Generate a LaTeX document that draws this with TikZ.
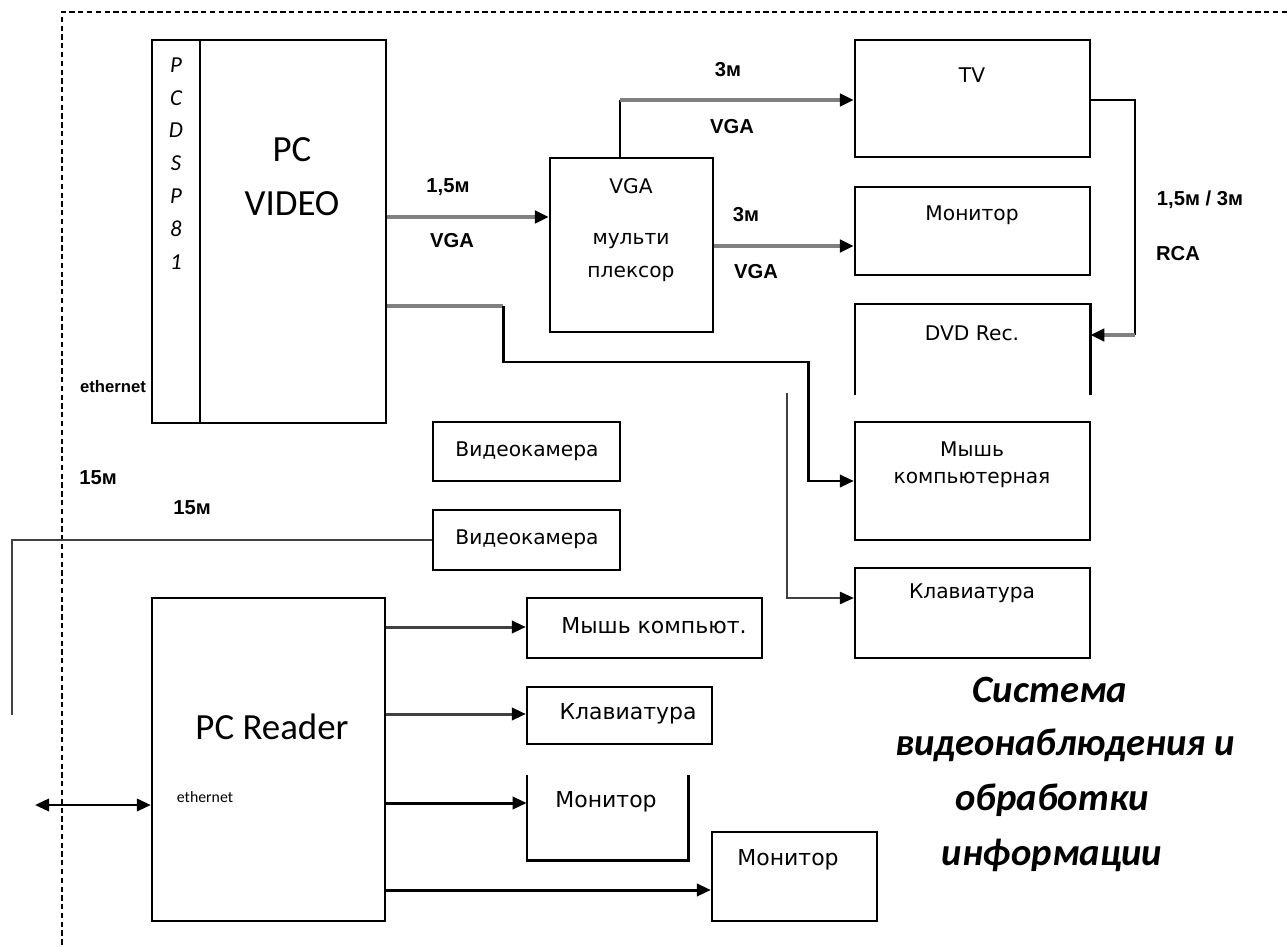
\documentclass[tikz,border=0pt]{standalone}
\usepackage{fontspec}
\setmainfont{Carlito}
\newfontfamily\labfont{Liberation Sans}
\newfontfamily\boxfont{DejaVu Sans}
\usetikzlibrary{arrows.meta,fit}
\tikzset{
  blk/.style={draw, line width=1.3pt, inner sep=0pt},
  open/.style={inner sep=0pt},
  side/.style={line width=1.3pt},
  tipk/.style={-{Triangle[length=8pt,width=7pt,black]}},
  garr/.style={draw=gray, line width=2.2pt, tipk},
  gline/.style={draw=gray, line width=2.2pt},
  bline/.style={draw=black, line width=1.6pt},
  barr/.style={draw=black, line width=1.7pt, tipk},
  darr/.style={draw=black!75, line width=1.7pt, tipk},
  tline/.style={draw=black!75, line width=1.1pt},
  tarr/.style={draw=black!75, line width=1.1pt, tipk},
  border/.style={draw=black, line width=1.2pt, dash pattern=on 3pt off 2pt},
  txt/.style={font=\boxfont\fontsize{11.5}{13}\selectfont, inner sep=0pt},
  big/.style={font=\fontsize{21}{24}\selectfont, inner sep=0pt},
  lab/.style={font=\labfont\bfseries\fontsize{11.5}{13}\selectfont, inner sep=0pt},
  vert/.style={font=\itshape\fontsize{13}{14}\selectfont, inner sep=0pt},
  capt/.style={font=\bfseries\itshape\fontsize{22}{24}\selectfont, inner sep=0pt},
}
\begin{document}
\begin{tikzpicture}[x=0.02cm,y=-0.02cm]
\useasboundingbox (0,0) rectangle (1287,946);

% outer dashed frame (top and left edges)
\coordinate (fr1) at (62,12);
\coordinate (fr2) at (1287,12);
\coordinate (fr3) at (62,946);
\draw[border] (fr2) -- (fr1) -- (fr3);

% ---------- blocks ----------
\node[blk, fit={(152,40) (386,423)}] (pcv) {};
\draw[side] (200,40) -- (200,423);
\node[blk, fit={(550,158) (713,332)}] (mux) {};
\node[blk, fit={(855,40) (1090,157)}] (tv) {};
\node[blk, fit={(855,187) (1090,275)}] (mon) {};
\node[open, fit={(855,304) (1090,395)}] (dvd) {};
\draw[side] (dvd.south west) -- (dvd.north west) -- (dvd.north east) -- (dvd.south east);
\node[blk, fit={(855,422) (1090,540)}] (mouse) {};
\node[blk, fit={(855,568) (1090,658)}] (kl) {};
\node[blk, fit={(433,422) (620,481)}] (cam1) {};
\node[blk, fit={(433,510) (620,570)}] (cam2) {};
\node[blk, fit={(152,598) (385,921)}] (pcr) {};
\node[blk, fit={(527,598) (762,658)}] (mk) {};
\node[blk, fit={(527,687) (712,744)}] (kl2) {};
\node[open, fit={(527,775) (688,860)}] (m3) {};
\draw[side] (m3.north west) -- (m3.south west) -- (m3.south east) -- (m3.north east);
\node[blk, fit={(712,832) (877,921)}] (m4) {};

% ---------- block texts ----------
\foreach \c [count=\i] in {P,C,D,S,P,8,1}
  \node[vert] (v\i) at (176,{65+32.8*(\i-1)}) {\c};
\node[big] (pc1) at (292,150) {PC};
\node[big] (pc2) at (292,204) {VIDEO};
\node[lab, font=\labfont\bfseries\fontsize{9.5}{11}\selectfont] (eth1) at (113,387) {ethernet};

\node[txt] (mx1) at (631,186) {VGA};
\node[txt] (mx2) at (631,241) {мульти};
\node[txt] (mx3) at (631,274) {плексор};

\node[txt] (t1) at (972,75) {TV};
\node[txt] (t2) at (972,215) {Монитор};
\node[txt] (t3) at (972,333) {DVD Rec.};
\node[txt] (t4) at (972,449) {Мышь};
\node[txt] (t5) at (972,480) {компьютерная};
\node[txt] (t6) at (972,593) {Клавиатура};
\node[txt] (t7) at (527,451) {Видеокамера};
\node[txt] (t8) at (527,539) {Видеокамера};

\node[big] (r1) at (272,727) {PC Reader};
\node[font=\fontsize{9}{10}\selectfont, inner sep=0pt] (eth2) at (205,797) {ethernet};
\node[txt, font=\boxfont\fontsize{12.5}{14}\selectfont] (t9) at (654,626) {Мышь компьют.};
\node[txt, font=\boxfont\fontsize{12.5}{14}\selectfont] (t10) at (628,714) {Клавиатура};
\node[txt, font=\boxfont\fontsize{12.5}{14}\selectfont] (t11) at (606,802) {Монитор};
\node[txt, font=\boxfont\fontsize{12.5}{14}\selectfont] (t12) at (788,860) {Монитор};

% ---------- cable labels ----------
\node[lab] (c1) at (448,187) {1,5м};
\node[lab] (c2) at (452,241) {VGA};
\node[lab] (c3) at (728,70) {3м};
\node[lab] (c4) at (732,127) {VGA};
\node[lab] (c5) at (746,215) {3м};
\node[lab] (c6) at (756,272) {VGA};
\node[lab] (c7) at (1200,200) {1,5м / 3м};
\node[lab] (c8) at (1178,254) {RCA};
\node[lab] (c9) at (98,478) {15м};
\node[lab] (c10) at (192,508) {15м};

% ---------- caption ----------
\node[capt] (s1) at (1050,690) {Система};
\node[capt] (s2) at (1065,745) {видеонаблюдения и};
\node[capt] (s3) at (1052,800) {обработки};
\node[capt] (s4) at (1052,855) {информации};

% ---------- connectors ----------
\draw[garr] (pcv.east |- 0,217) -- (mux.west |- 0,217);
\coordinate (j1) at (620,100);
\draw[bline] (mux.north -| j1) -- (j1);
\draw[garr] (j1) -- (tv.west |- j1);
\draw[garr] (mux.east |- 0,246) -- (mon.west |- 0,246);

\coordinate (j2) at (1135,100);
\coordinate (j3) at (1135,335);
\draw[bline] (tv.east |- j2) -- (j2) -- (j3);
\draw[garr] (j3) -- (dvd.east |- j3);

\coordinate (j4) at (503,306);
\draw[gline] (pcv.east |- j4) -- (j4);
\draw[barr] (j4) -- (503,362) -- (808,362) -- (808,481) -- (mouse.west |- 0,481);

\coordinate (j5) at (787,393);
\draw[tarr] (j5) -- (787,598) -- (kl.west |- 0,598);

\coordinate (j6) at (12,715);
\draw[tline] (cam2.west) -- (j6 |- cam2.west) -- (j6);

\draw[darr] (pcr.east |- 0,627) -- (mk.west |- 0,627);
\draw[darr] (pcr.east |- 0,714) -- (kl2.west |- 0,714);
\draw[barr] (pcr.east |- 0,803) -- (m3.west |- 0,803);
\draw[barr] (pcr.east |- 0,890) -- (m4.west |- 0,890);

\coordinate (j7) at (35,805);
\draw[bline, {Triangle[length=8pt,width=7pt]}-{Triangle[length=8pt,width=7pt]}] (j7) -- (pcr.west |- j7);
\end{tikzpicture}
\end{document}
